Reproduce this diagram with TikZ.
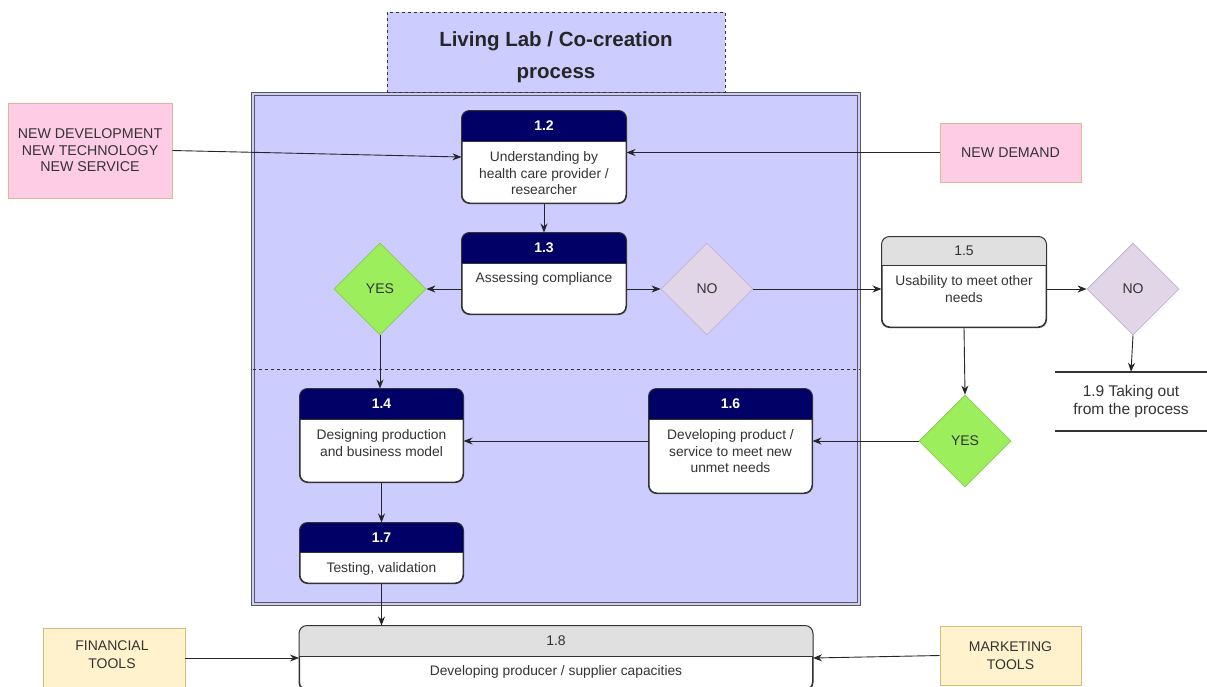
\documentclass[tikz,border=0pt]{standalone}
\usepackage{fontspec}
\setmainfont{Liberation Sans}
\usetikzlibrary{shapes.geometric,arrows.meta,calc}
\definecolor{lav}{RGB}{204,204,255}
\definecolor{navy}{RGB}{0,0,102}
\definecolor{hgrey}{RGB}{224,224,224}
\definecolor{pinkf}{RGB}{255,204,230}
\definecolor{pinkd}{RGB}{222,184,150}
\definecolor{yelf}{RGB}{255,242,204}
\definecolor{yeld}{RGB}{214,190,120}
\definecolor{greenf}{RGB}{156,238,92}
\definecolor{greend}{RGB}{135,205,85}
\definecolor{lilf}{RGB}{225,213,231}
\definecolor{lild}{RGB}{195,180,205}
\definecolor{txt}{RGB}{51,51,51}
\newcommand\boxhdr[3]{%
  \begin{scope}
    \clip[rounded corners=8pt] (#1.north west) rectangle (#1.south east);
    \fill[#3] (#1.north west) rectangle ($(#1.north east)+(0,#2)$);
  \end{scope}
  \draw[txt,line width=1pt] ($(#1.north west)+(0,#2)$) -- ($(#1.north east)+(0,#2)$);
  \draw[txt,line width=1pt,rounded corners=8pt] (#1.north west) rectangle (#1.south east);}
\begin{document}
\begin{tikzpicture}[x=1pt,y=-1pt,
  arr/.style={-{Stealth[length=9pt,width=7pt]}, draw=black!85, line width=0.9pt},
  procbox/.style={draw=txt, line width=1pt, rounded corners=8pt, fill=white, inner sep=0pt},
  bodytxt/.style={anchor=north, align=center, text=txt, inner sep=0pt, font=\fontsize{13.8}{16.5}\selectfont},
  numw/.style={text=white, font=\fontsize{14}{15}\selectfont\bfseries, inner sep=0pt},
  numd/.style={text=txt, font=\fontsize{14}{15}\selectfont, inner sep=0pt},
  pinkbox/.style={draw=pinkd, fill=pinkf, line width=0.8pt, align=center, text=txt, font=\fontsize{14.2}{16.5}\selectfont, inner sep=0pt},
  yelbox/.style={draw=yeld, fill=yelf, line width=0.8pt, inner sep=0pt},
  yeltxt/.style={align=center, text=txt, font=\fontsize{14}{18}\selectfont, inner sep=0pt},
  dia/.style={diamond, aspect=1, minimum width=92pt, minimum height=92pt, inner sep=0pt, line width=0.8pt, text=txt, font=\fontsize{14}{15}\selectfont},
  yesd/.style={dia, draw=greend, fill=greenf},
  nod/.style={dia, draw=lild, fill=lilf}]
\useasboundingbox (0,0) rectangle (1207,686);
% main container
\node[draw=black!65, double=lav, double distance=2pt, line width=0.8pt, fill=lav, minimum width=606pt, minimum height=510pt, inner sep=0pt] (main) at (556,349) {};
\draw[black!80, dashed, line width=0.6pt] (main.west |- 0,369) -- (main.east |- 0,369);
% title
\node[draw=black!80, dashed, fill=lav, line width=0.8pt, minimum width=338pt, minimum height=80pt, inner sep=0pt] (title) at (556,52) {};
\node[align=center, font=\fontsize{20.5}{32}\selectfont\bfseries, text=black!85, inner sep=0pt] (titletxt) at (556,57) {Living Lab / Co-creation\\process};
% process boxes
\node[procbox, minimum width=164pt, minimum height=92pt] (b12) at (544,157) {};
\boxhdr{b12}{31}{navy}
\node[numw] (n12) at ($(b12.north)+(0,15.5)$) {1.2};
\node[bodytxt] (t12) at ($(b12.north)+(0,41)$) {Understanding by\\health care provider /\\researcher};

\node[procbox, minimum width=164pt, minimum height=81pt] (b13) at (544,273.5) {};
\boxhdr{b13}{31}{navy}
\node[numw] (n13) at ($(b13.north)+(0,15.5)$) {1.3};
\node[bodytxt] (t13) at ($(b13.north)+(0,40)$) {Assessing compliance};

\node[procbox, minimum width=164pt, minimum height=90pt] (b15) at (964,282) {};
\boxhdr{b15}{29}{hgrey}
\node[numd] (n15) at ($(b15.north)+(0,14.5)$) {1.5};
\node[bodytxt] (t15) at ($(b15.north)+(0,39)$) {Usability to meet other\\needs};

\node[procbox, minimum width=163pt, minimum height=104pt] (b16) at (730.5,441) {};
\boxhdr{b16}{31}{navy}
\node[numw] (n16) at ($(b16.north)+(0,15.5)$) {1.6};
\node[bodytxt] (t16) at ($(b16.north)+(0,41)$) {Developing product /\\service to meet new\\unmet needs};

\node[procbox, minimum width=163pt, minimum height=93pt] (b14) at (381.5,435.5) {};
\boxhdr{b14}{31}{navy}
\node[numw] (n14) at ($(b14.north)+(0,15.5)$) {1.4};
\node[bodytxt] (t14) at ($(b14.north)+(0,41)$) {Designing production\\and business model};

\node[procbox, minimum width=163pt, minimum height=60pt] (b17) at (381.5,553) {};
\boxhdr{b17}{30}{navy}
\node[numw] (n17) at ($(b17.north)+(0,15)$) {1.7};
\node[bodytxt] (t17) at ($(b17.north)+(0,40)$) {Testing, validation};

\node[procbox, minimum width=513pt, minimum height=64pt] (b18) at (556,658) {};
\boxhdr{b18}{31}{hgrey}
\node[numd] (n18) at ($(b18.north)+(0,15.5)$) {1.8};
\node[bodytxt] (t18) at ($(b18.north)+(0,40)$) {Developing producer / supplier capacities};

% inputs
\node[pinkbox, minimum width=164pt, minimum height=95pt] (newdev) at (90,150.5) {NEW DEVELOPMENT\\NEW TECHNOLOGY\\NEW SERVICE};
\node[pinkbox, minimum width=141pt, minimum height=59pt] (newdem) at (1010.5,152.5) {NEW DEMAND};
\node[yelbox, minimum width=142pt, minimum height=60pt] (fin) at (114,658) {};
\node[yeltxt] (fintxt) at (112,655) {FINANCIAL\\TOOLS};
\node[yelbox, minimum width=141pt, minimum height=59pt] (mkt) at (1010.5,655.5) {};
\node[yeltxt] (mkttxt) at (1010.5,656) {MARKETING\\TOOLS};

% decisions
\node[yesd] (yesL) at (380,289) {YES};
\node[nod] (noM) at (707,289) {NO};
\node[nod] (noR) at (1133,289) {NO};
\node[yesd] (yesR) at (965,441) {YES};

% 1.9
\node[align=center, text=txt, font=\fontsize{15.5}{17.5}\selectfont, minimum width=152pt, minimum height=59pt, inner sep=0pt] (t19) at (1131,401.5) {1.9 Taking out\\from the process};
\draw[black!80, line width=2pt] (t19.north west) -- (t19.north east);
\draw[black!80, line width=2pt] (t19.south west) -- (t19.south east);

% connectors
\draw[arr] (newdev.east) -- (b12.west);
\draw[arr] (newdem.west) -- (newdem.west -| b12.east);
\draw[arr] (b12.south) -- (b13.north);
\draw[arr] (yesL.east -| b13.west) -- (yesL.east);
\draw[arr] (noM.west -| b13.east) -- (noM.west);
\draw[arr] (noM.east) -- (noM.east -| b15.west);
\draw[arr] (noR.west -| b15.east) -- (noR.west);
\draw[arr] (noR.south) -- (t19.north);
\draw[arr] (b15.south) -- (yesR.north);
\draw[arr] (yesR.west) -- (b16.east);
\draw[arr] (b16.west) -- (b16.west -| b14.east);
\draw[arr] (yesL.south) -- (yesL.south |- b14.north);
\draw[arr] (b14.south) -- (b17.north);
\draw[arr] (b17.south) -- (b18.north -| b17.south);
\draw[arr] (fin.east) -- (b18.west);
\draw[arr] (mkt.west) -- (b18.east);
\end{tikzpicture}
\end{document}
